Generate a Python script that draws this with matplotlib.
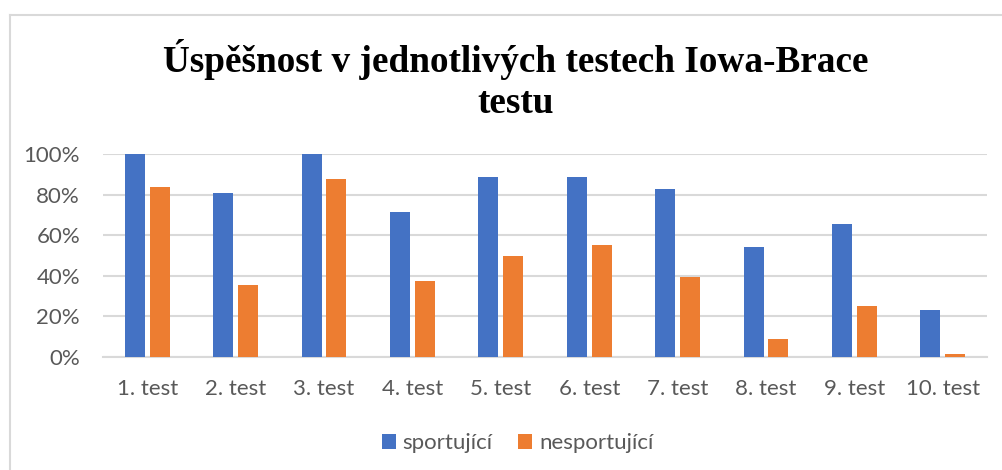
import matplotlib
matplotlib.use("Agg")
import matplotlib.pyplot as plt
from matplotlib.lines import Line2D
from matplotlib.patches import Patch
import numpy as np

categories = ["1. test", "2. test", "3. test", "4. test", "5. test",
              "6. test", "7. test", "8. test", "9. test", "10. test"]
sportujici = [1.000, 0.808, 1.000, 0.712, 0.885, 0.885, 0.827, 0.540, 0.654, 0.231]
nesportujici = [0.838, 0.354, 0.876, 0.374, 0.499, 0.552, 0.392, 0.087, 0.250, 0.017]
series_names = ["sportující", "nesportující"]
yticks = [0, 0.2, 0.4, 0.6, 0.8, 1.0]
ytick_labels = ["0%", "20%", "40%", "60%", "80%", "100%"]
title = "Úspěšnost v jednotlivých testech Iowa-Brace\ntestu"

BLUE = "#4472C4"
ORANGE = "#ED7D31"
GRID = "#D9D9D9"
TXT = "#595959"

W, H = 1002, 470
fig = plt.figure(figsize=(W / 100, H / 100), dpi=100)
fig.patch.set_facecolor("white")

ax = fig.add_axes([103 / W, 1 - 357 / H, (987 - 103) / W, (357 - 154) / H])
x = np.arange(len(categories))
bw = 0.226
off = 0.141
ax.bar(x - off, sportujici, width=bw, color=BLUE, zorder=3, clip_on=False)
ax.bar(x + off, nesportujici, width=bw, color=ORANGE, zorder=3, clip_on=False)

ax.set_xlim(-0.5, len(categories) - 0.5)
ax.set_ylim(0, 1.0)
ax.set_yticks(yticks)
ax.set_yticklabels(ytick_labels)
ax.set_xticks(x)
ax.set_xticklabels(categories)
for s in ["top", "right", "left"]:
    ax.spines[s].set_visible(False)
ax.spines["bottom"].set_color(GRID)
ax.spines["bottom"].set_linewidth(1.5)
ax.spines["bottom"].set_zorder(1)
ax.yaxis.grid(True, color=GRID, linewidth=1.5, zorder=0)
ax.set_axisbelow(True)
ax.tick_params(axis="both", length=0, colors=TXT, labelsize=16)
ax.tick_params(axis="y", pad=16.5)
ax.tick_params(axis="x", pad=16)
for lab in ax.get_xticklabels() + ax.get_yticklabels():
    lab.set_fontfamily("Lato")
    lab.set_color(TXT)

fig.text(0.515, 1 - 80 / H, title, ha="center", va="center",
         fontfamily="Liberation Serif", fontweight="bold", fontsize=26.8,
         color="black", linespacing=1.2)

handles = [Patch(facecolor=BLUE, edgecolor="none"), Patch(facecolor=ORANGE, edgecolor="none")]
leg = fig.legend(handles, series_names, loc="center", bbox_to_anchor=(517.5 / W, 1 - 443 / H),
                 ncol=2, frameon=False, handlelength=0.64, handleheight=0.64,
                 columnspacing=1.14, handletextpad=0.3,
                 prop={"family": "Lato", "size": 16})
for t in leg.get_texts():
    t.set_color(TXT)

# chart border (top and left visible)
fig.add_artist(Line2D([10 / W, 1.0], [1 - 15 / H, 1 - 15 / H], color=GRID, linewidth=1.5,
                      transform=fig.transFigure))
fig.add_artist(Line2D([10 / W, 10 / W], [1 - 15 / H, 0], color=GRID, linewidth=1.5,
                      transform=fig.transFigure))

fig.savefig("out.png", dpi=100, facecolor="white")
